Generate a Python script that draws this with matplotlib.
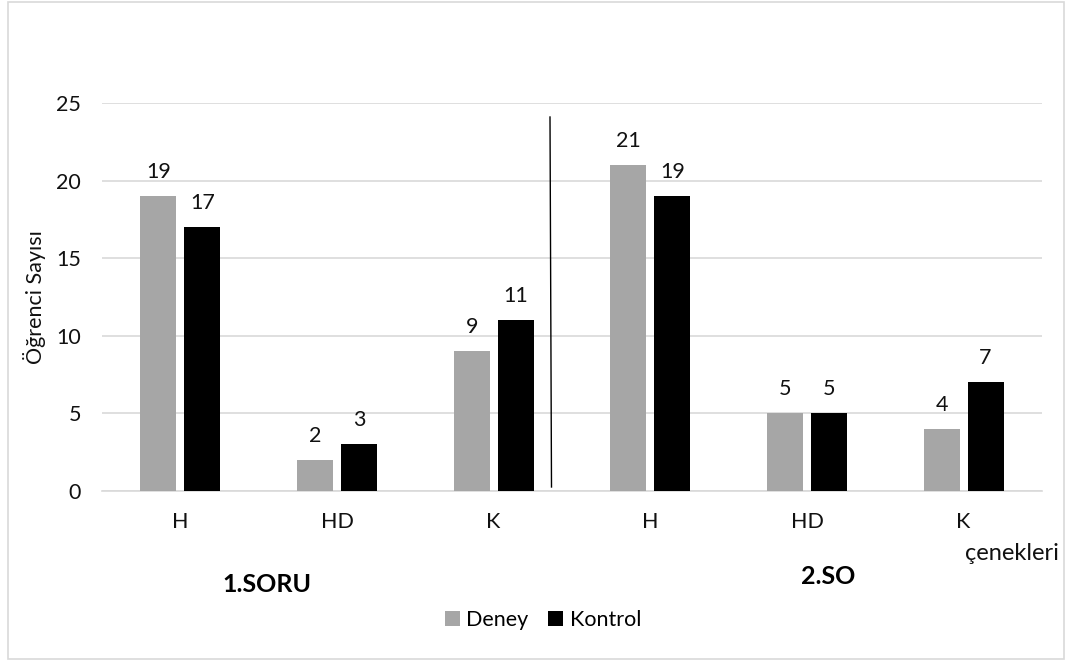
import matplotlib
matplotlib.use("Agg")
import matplotlib.pyplot as plt
from matplotlib.patches import Rectangle
from matplotlib.lines import Line2D

plt.rcParams['font.family'] = ['Lato', 'DejaVu Sans']

categories = ["H", "HD", "K", "H", "HD", "K"]
deney = [19, 2, 9, 21, 5, 4]
kontrol = [17, 3, 11, 19, 5, 7]
yticks = [0, 5, 10, 15, 20, 25]

W, H = 1066, 660
fig = plt.figure(figsize=(W / 100, H / 100), dpi=100)
fig.patch.set_facecolor("white")

fs = 15.5
ink = "#111111"

# outer chart frame
fig.add_artist(Rectangle((8 / W, 1 / H), (1064 - 8) / W, (658 - 1) / H,
                         transform=fig.transFigure, fill=False,
                         edgecolor="#d9d9d9", linewidth=1.2))

ax = fig.add_axes([102 / W, (H - 491) / H, (1042 - 102) / W, (491 - 103) / H])
x = list(range(len(categories)))
bw = 0.23
off = 0.14
gray = "#a6a6a6"
b1 = ax.bar([i - off for i in x], deney, width=bw, color=gray, label="Deney", zorder=3)
b2 = ax.bar([i + off for i in x], kontrol, width=bw, color="black", label="Kontrol", zorder=3)

for bars, vals in ((b1, deney), (b2, kontrol)):
    for r, v in zip(bars, vals):
        ax.annotate(str(v), (r.get_x() + r.get_width() / 2, v), xytext=(0, 24),
                    textcoords="offset pixels",
                    ha="center", va="center", fontsize=fs, color=ink)

ax.set_xlim(-0.5, len(categories) - 0.5)
ax.set_ylim(0, 25)
ax.set_yticks(yticks)
ax.set_xticks(x)
ax.set_xticklabels(categories)
ax.tick_params(axis="both", length=0, labelsize=fs, colors=ink)
ax.tick_params(axis="x", pad=15)
ax.tick_params(axis="y", pad=15)
ax.grid(axis="y", color="#d9d9d9", linewidth=1.2, zorder=0)
for s in ["top", "right", "left"]:
    ax.spines[s].set_visible(False)
ax.spines["bottom"].set_color("#d9d9d9")
ax.spines["bottom"].set_linewidth(1.2)
ax.set_ylabel("Öğrenci Sayısı", fontsize=fs, color=ink)
ax.yaxis.set_label_coords(-56 / (1042 - 102), 0.5)

# separator between the two questions
fig.add_artist(Line2D([550 / W, 551.5 / W], [(H - 117) / H, (H - 487) / H],
                      transform=fig.transFigure, color="black", linewidth=1))

fig.text(222 / W, (H - 585) / H, "1.SORU", fontsize=18, fontweight="bold",
         ha="left", va="center", color="black")
fig.text(801 / W, (H - 577) / H, "2.SO", fontsize=18, fontweight="bold",
         ha="left", va="center", color="black")
fig.text(965 / W, (H - 553) / H, "çenekleri", fontsize=17,
         ha="left", va="center", color=ink)

fig.legend(handles=[b1, b2], labels=["Deney", "Kontrol"], loc="center",
           bbox_to_anchor=(543 / W, (H - 620) / H), ncol=2, frameon=False,
           fontsize=fs, handlelength=0.7, handleheight=0.7,
           handletextpad=0.3, columnspacing=0.9)

fig.savefig("out.png", dpi=100)
